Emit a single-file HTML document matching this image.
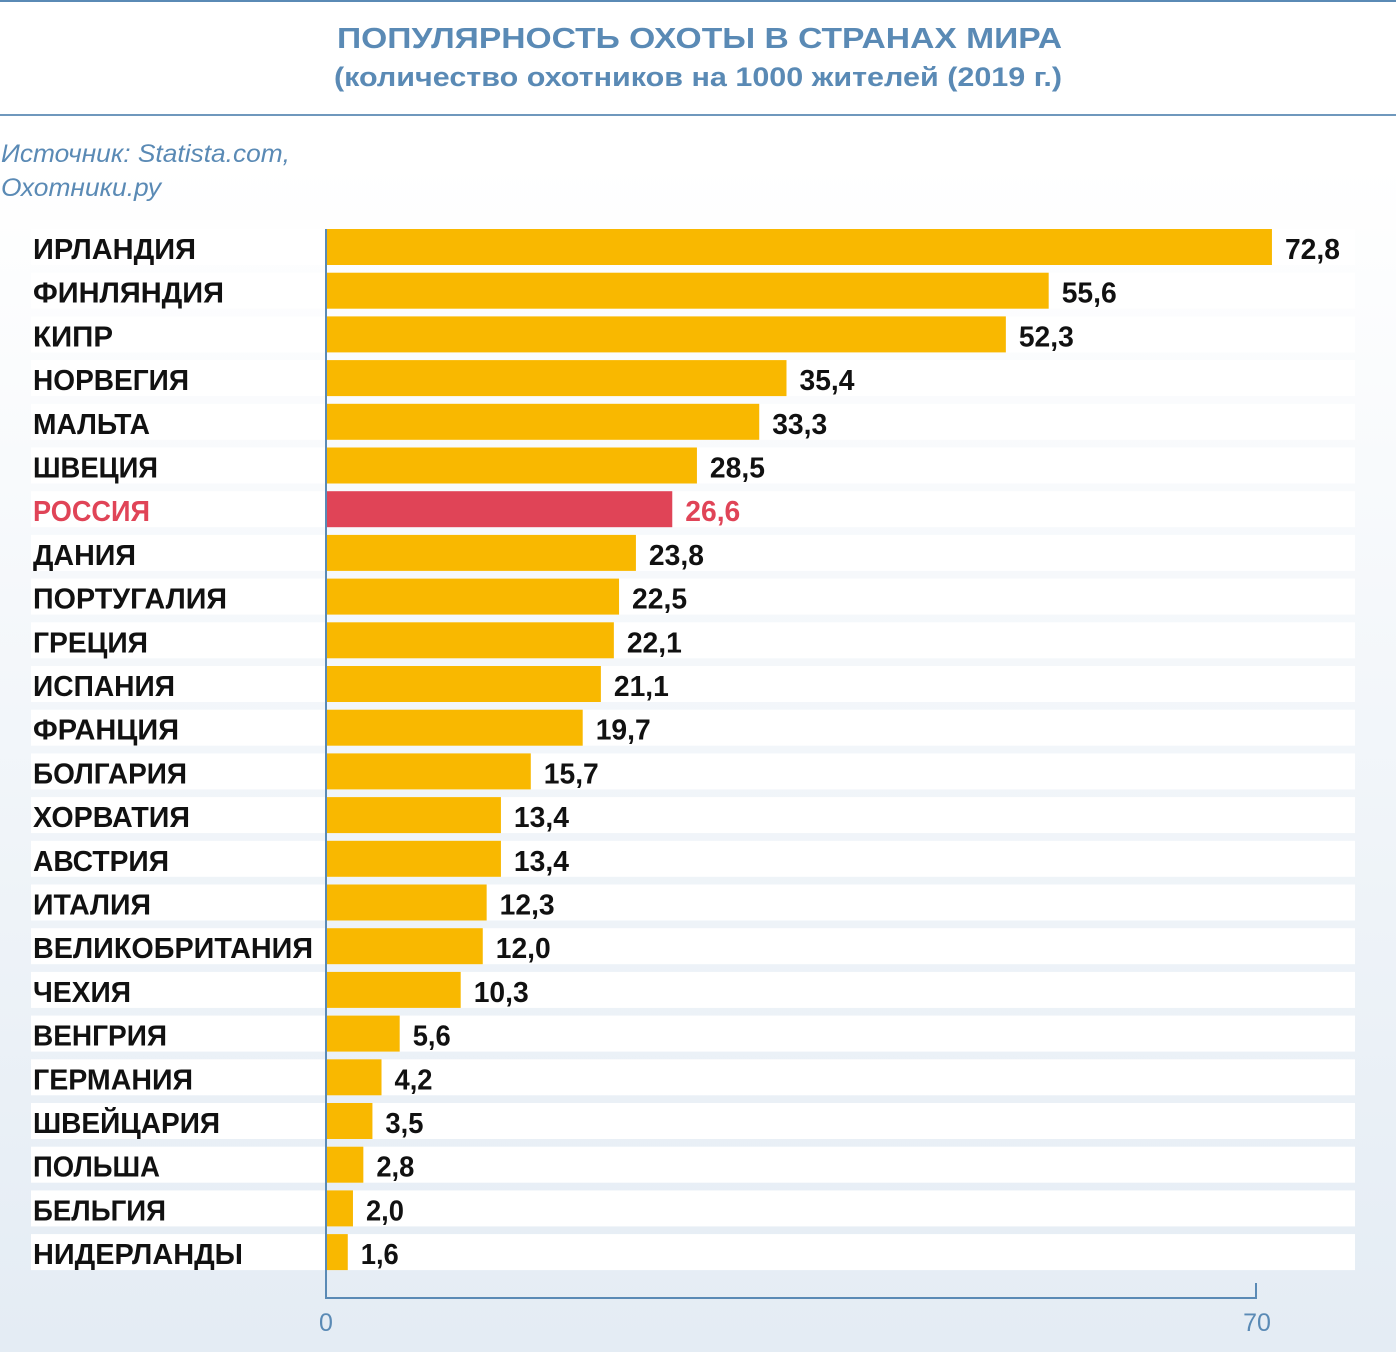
<!DOCTYPE html>
<html><head><meta charset="utf-8"><style>
html,body{margin:0;padding:0;}
body{width:1396px;height:1352px;overflow:hidden;}
</style></head><body>
<svg width="1396" height="1352" xmlns="http://www.w3.org/2000/svg" font-family="'Liberation Sans', sans-serif">
<defs><linearGradient id="bg" x1="0" y1="0" x2="0" y2="1">
<stop offset="0" stop-color="#ffffff"/><stop offset="0.12" stop-color="#ffffff"/><stop offset="1" stop-color="#e4ecf4"/></linearGradient></defs>
<rect width="1396" height="1352" fill="url(#bg)"/>
<rect x="0" y="0" width="1396" height="2" fill="#5a8ab5"/>
<rect x="0" y="114" width="1396" height="2" fill="#6f98bd"/>
<text x="337" y="48" font-size="29" font-weight="bold" fill="#5a8ab5" textLength="725" lengthAdjust="spacingAndGlyphs">ПОПУЛЯРНОСТЬ ОХОТЫ В СТРАНАХ МИРА</text>
<text x="334" y="86" font-size="27" font-weight="bold" fill="#5a8ab5" textLength="728" lengthAdjust="spacingAndGlyphs">(количество охотников на 1000 жителей (2019 г.)</text>
<text x="1" y="162" font-size="25" font-style="italic" fill="#5a8ab5" textLength="289" lengthAdjust="spacingAndGlyphs">Источник: Statista.com,</text>
<text x="1" y="196" font-size="25" font-style="italic" fill="#5a8ab5" textLength="160" lengthAdjust="spacingAndGlyphs">Охотники.ру</text>
<g id="rows"></g>
<rect x="325" y="229" width="2" height="1070" fill="#5a8ab5"/>
<rect x="325" y="1297" width="932" height="2" fill="#5a8ab5"/>
<rect x="1255" y="1283" width="2" height="15" fill="#5a8ab5"/>
<text x="326" y="1331" font-size="25" fill="#5a8ab5" text-anchor="middle">0</text>
<text x="1257" y="1331" font-size="25" fill="#5a8ab5" text-anchor="middle">70</text>
</svg>
<script>
var d=[["ИРЛАНДИЯ",72.8,163],["ФИНЛЯНДИЯ",55.6,191],["КИПР",52.3,80],["НОРВЕГИЯ",35.4,156],["МАЛЬТА",33.3,117],["ШВЕЦИЯ",28.5,125],["РОССИЯ",26.6,117],["ДАНИЯ",23.8,103],["ПОРТУГАЛИЯ",22.5,194],["ГРЕЦИЯ",22.1,115],["ИСПАНИЯ",21.1,142],["ФРАНЦИЯ",19.7,146],["БОЛГАРИЯ",15.7,154],["ХОРВАТИЯ",13.4,157],["АВСТРИЯ",13.4,136],["ИТАЛИЯ",12.3,118],["ВЕЛИКОБРИТАНИЯ",12.0,280],["ЧЕХИЯ",10.3,98],["ВЕНГРИЯ",5.6,134],["ГЕРМАНИЯ",4.2,160],["ШВЕЙЦАРИЯ",3.5,187],["ПОЛЬША",2.8,127],["БЕЛЬГИЯ",2.0,133],["НИДЕРЛАНДЫ",1.6,210]];
var s="";
for(var i=0;i<d.length;i++){
var t=229+i*43.7, red=d[i][0]=="РОССИЯ";
var c=red?"#e04457":"#f9b800", tc=red?"#e04457":"#111";
var w=d[i][1]*12.98, v=d[i][1].toFixed(1).replace(".",",");
s+='<rect x="31" y="'+t+'" width="1324" height="36" fill="#fff"/>';
s+='<rect x="327" y="'+t+'" width="'+w+'" height="36" fill="'+c+'"/>';
s+='<text x="33" y="'+(t+30)+'" font-size="29" font-weight="bold" fill="'+tc+'" textLength="'+d[i][2]+'" lengthAdjust="spacingAndGlyphs">'+d[i][0]+'</text>';
s+='<text x="'+(327+w+13)+'" y="'+(t+30)+'" font-size="29" font-weight="bold" fill="'+tc+'" textLength="'+(v.length==4?55:38)+'" lengthAdjust="spacingAndGlyphs">'+v+'</text>';
}
document.getElementById("rows").innerHTML=s;
</script>
</body></html>
